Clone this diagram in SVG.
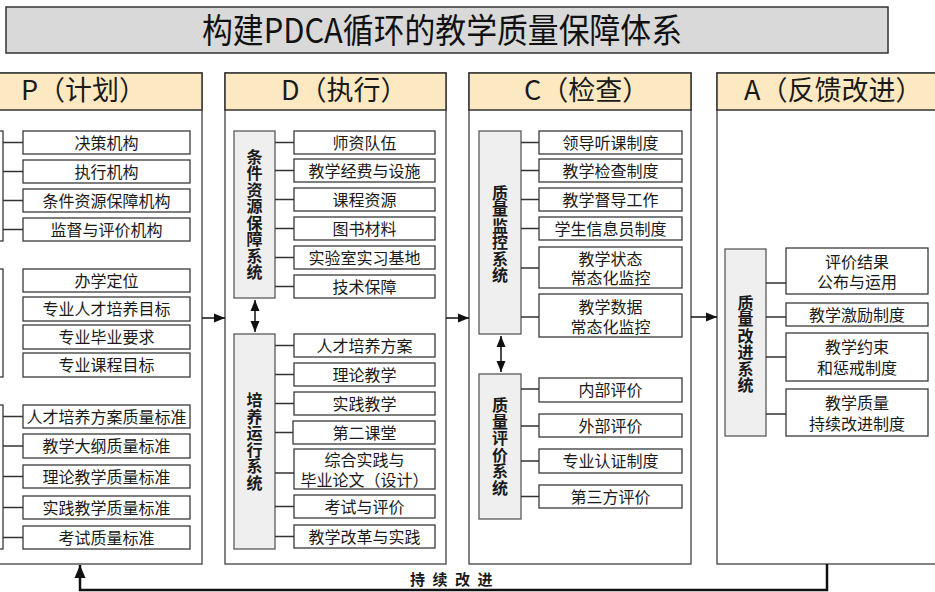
<svg xmlns="http://www.w3.org/2000/svg" width="935" height="592" viewBox="0 0 935 592">
<style>
.bg{fill:#ffffff}
.title{fill:#d9d9d9;stroke:#333333;stroke-width:1.5}
.col{fill:#ffffff;stroke:#5a5a5a;stroke-width:1.5}
.hdr{fill:#fde9c1;stroke:#333333;stroke-width:1.5}
.item{fill:#ffffff;stroke:#3a3a3a;stroke-width:1.3}
.lbl{fill:#efefef;stroke:#5a5a5a;stroke-width:1.3}
.t{font-family:"Noto Sans CJK SC","Noto Sans",sans-serif;font-size:16px;fill:#1a1a1a;text-anchor:middle}
.v{font-family:"Noto Sans CJK SC","Noto Sans",sans-serif;font-size:16px;font-weight:bold;fill:#1a1a1a;text-anchor:middle;writing-mode:vertical-rl;letter-spacing:0.5px}
.h{font-family:"Noto Sans CJK SC","Noto Sans",sans-serif;font-size:27px;fill:#1a1a1a}
.tt{font-family:"Noto Sans CJK SC","Noto Sans",sans-serif;font-size:34px;fill:#111111;text-anchor:middle}
.ft{font-family:"Noto Sans CJK SC","Noto Sans",sans-serif;font-size:15px;font-weight:bold;fill:#1a1a1a;letter-spacing:7.5px}
.c{fill:none;stroke:#333333;stroke-width:1.3}
.a{fill:none;stroke:#111111;stroke-width:1.5}
.fb{fill:none;stroke:#111111;stroke-width:2.5}
</style>
<defs>
<marker id="ah" markerUnits="userSpaceOnUse" markerWidth="12" markerHeight="12" viewBox="0 0 12 12" refX="11" refY="6" orient="auto-start-reverse">
<path d="M0,1.5 L11,6 L0,10.5 Z" fill="#111111"/>
</marker>
<marker id="ahb" markerUnits="userSpaceOnUse" markerWidth="14" markerHeight="14" viewBox="0 0 14 14" refX="13" refY="7" orient="auto">
<path d="M0,1.5 L13,7 L0,12.5 Z" fill="#111111"/>
</marker>
</defs>
<rect class="bg" x="0" y="0" width="935" height="592"/>

<g id="title">
<rect class="title" x="6" y="7" width="882" height="46"/>
<text class="tt" x="442" y="43" textLength="480" lengthAdjust="spacingAndGlyphs">构建PDCA循环的教学质量保障体系</text>
</g>

<!-- Columns -->
<g id="col-P">
<rect class="col" x="-20" y="73" width="222" height="491"/>
<rect class="hdr" x="-20" y="73" width="222" height="37"/>
<text class="h" x="21" y="100">P（计划）</text>
</g>
<g id="col-D">
<rect class="col" x="225" y="73" width="221" height="491"/>
<rect class="hdr" x="225" y="73" width="221" height="37"/>
<text class="h" x="281" y="100">D（执行）</text>
</g>
<g id="col-C">
<rect class="col" x="469" y="73" width="222" height="491"/>
<rect class="hdr" x="469" y="73" width="222" height="37"/>
<text class="h" x="524" y="100">C（检查）</text>
</g>
<g id="col-A">
<rect class="col" x="717" y="73" width="230" height="491"/>
<rect class="hdr" x="717" y="73" width="230" height="37"/>
<text class="h" x="744" y="100">A（反馈改进）</text>
</g>

<!-- P column groups -->
<g id="P-group1"><rect class="item" x="-40" y="131" width="43" height="110"/></g>
<g id="P-group2"><rect class="item" x="-40" y="269" width="43" height="108"/></g>
<g id="P-group3"><rect class="item" x="-40" y="405" width="43" height="144"/></g>

<g id="P-1"><rect class="item" x="23" y="131" width="167" height="23"/><text class="t" x="106.5" y="148.5">决策机构</text></g>
<g id="P-2"><rect class="item" x="23" y="160" width="167" height="23"/><text class="t" x="106.5" y="177.5">执行机构</text></g>
<g id="P-3"><rect class="item" x="23" y="189" width="167" height="23"/><text class="t" x="106.5" y="206.5">条件资源保障机构</text></g>
<g id="P-4"><rect class="item" x="23" y="218" width="167" height="23"/><text class="t" x="106.5" y="235.5">监督与评价机构</text></g>

<g id="P-5"><rect class="item" x="23" y="269" width="167" height="23"/><text class="t" x="106.5" y="286.5">办学定位</text></g>
<g id="P-6"><rect class="item" x="23" y="297" width="167" height="24"/><text class="t" x="106.5" y="315">专业人才培养目标</text></g>
<g id="P-7"><rect class="item" x="23" y="325" width="167" height="24"/><text class="t" x="106.5" y="343">专业毕业要求</text></g>
<g id="P-8"><rect class="item" x="23" y="353" width="167" height="24"/><text class="t" x="106.5" y="371">专业课程目标</text></g>

<g id="P-9"><rect class="item" x="23" y="405" width="167" height="23"/><text class="t" x="106.5" y="422.5">人才培养方案质量标准</text></g>
<g id="P-10"><rect class="item" x="23" y="434" width="167" height="24"/><text class="t" x="106.5" y="452">教学大纲质量标准</text></g>
<g id="P-11"><rect class="item" x="23" y="465" width="167" height="23"/><text class="t" x="106.5" y="482.5">理论教学质量标准</text></g>
<g id="P-12"><rect class="item" x="23" y="496" width="167" height="23"/><text class="t" x="106.5" y="513.5">实践教学质量标准</text></g>
<g id="P-13"><rect class="item" x="23" y="526" width="167" height="23"/><text class="t" x="106.5" y="543.5">考试质量标准</text></g>

<!-- D column -->
<g id="D-label1"><rect class="lbl" x="234" y="131" width="41" height="167"/>
<text class="v" x="254.5" y="214.5">条件资源保障系统</text></g>
<g id="D-1"><rect class="item" x="294" y="131" width="141" height="23"/><text class="t" x="364.5" y="148.5">师资队伍</text></g>
<g id="D-2"><rect class="item" x="294" y="159" width="141" height="23"/><text class="t" x="364.5" y="176.5">教学经费与设施</text></g>
<g id="D-3"><rect class="item" x="294" y="188" width="141" height="23"/><text class="t" x="364.5" y="205.5">课程资源</text></g>
<g id="D-4"><rect class="item" x="294" y="217" width="141" height="23"/><text class="t" x="364.5" y="234.5">图书材料</text></g>
<g id="D-5"><rect class="item" x="294" y="246" width="141" height="23"/><text class="t" x="364.5" y="263.5">实验室实习基地</text></g>
<g id="D-6"><rect class="item" x="294" y="275" width="141" height="23"/><text class="t" x="364.5" y="292.5">技术保障</text></g>

<g id="D-label2"><rect class="lbl" x="234" y="334" width="41" height="215"/>
<text class="v" x="254.5" y="441.5">培养运行系统</text></g>
<g id="D-7"><rect class="item" x="294" y="334" width="141" height="23"/><text class="t" x="364.5" y="351.5">人才培养方案</text></g>
<g id="D-8"><rect class="item" x="294" y="363" width="141" height="23"/><text class="t" x="364.5" y="380.5">理论教学</text></g>
<g id="D-9"><rect class="item" x="294" y="392" width="141" height="23"/><text class="t" x="364.5" y="409.5">实践教学</text></g>
<g id="D-10"><rect class="item" x="293" y="421" width="142" height="23"/><text class="t" x="364.5" y="438.5">第二课堂</text></g>
<g id="D-11"><rect class="item" x="294" y="449" width="141" height="40"/><text class="t" x="364.5" y="466"><tspan x="364.5">综合实践与</tspan><tspan x="364.5" dy="20">毕业论文（设计）</tspan></text></g>
<g id="D-12"><rect class="item" x="294" y="495" width="141" height="23"/><text class="t" x="364.5" y="512.5">考试与评价</text></g>
<g id="D-13"><rect class="item" x="294" y="525" width="141" height="23"/><text class="t" x="364.5" y="542.5">教学改革与实践</text></g>

<!-- C column -->
<g id="C-label1"><rect class="lbl" x="479" y="131" width="42" height="203"/>
<text class="v" x="500" y="234">质量监控系统</text></g>
<g id="C-1"><rect class="item" x="539" y="131" width="143" height="23"/><text class="t" x="610.5" y="148.5">领导听课制度</text></g>
<g id="C-2"><rect class="item" x="539" y="159" width="143" height="23"/><text class="t" x="610.5" y="176.5">教学检查制度</text></g>
<g id="C-3"><rect class="item" x="539" y="188" width="143" height="23"/><text class="t" x="610.5" y="205.5">教学督导工作</text></g>
<g id="C-4"><rect class="item" x="539" y="217" width="143" height="23"/><text class="t" x="610.5" y="234.5">学生信息员制度</text></g>
<g id="C-5"><rect class="item" x="539" y="247" width="143" height="41"/><text class="t" x="610.5" y="265"><tspan x="610.5">教学状态</tspan><tspan x="610.5" dy="19">常态化监控</tspan></text></g>
<g id="C-6"><rect class="item" x="539" y="294" width="143" height="43"/><text class="t" x="610.5" y="313"><tspan x="610.5">教学数据</tspan><tspan x="610.5" dy="20">常态化监控</tspan></text></g>

<g id="C-label2"><rect class="lbl" x="479" y="374" width="42" height="145"/>
<text class="v" x="500" y="446.5">质量评价系统</text></g>
<g id="C-7"><rect class="item" x="539" y="378" width="143" height="24"/><text class="t" x="610.5" y="396">内部评价</text></g>
<g id="C-8"><rect class="item" x="539" y="414" width="143" height="23"/><text class="t" x="610.5" y="431.5">外部评价</text></g>
<g id="C-9"><rect class="item" x="539" y="449" width="143" height="24"/><text class="t" x="610.5" y="467">专业认证制度</text></g>
<g id="C-10"><rect class="item" x="539" y="485" width="143" height="23"/><text class="t" x="610.5" y="502.5">第三方评价</text></g>

<!-- A column -->
<g id="A-label"><rect class="lbl" x="725" y="249" width="41" height="187"/>
<text class="v" x="745.5" y="344">质量改进系统</text></g>
<g id="A-1"><rect class="item" x="786" y="248" width="142" height="46"/><text class="t" x="857" y="268"><tspan x="857">评价结果</tspan><tspan x="857" dy="20">公布与运用</tspan></text></g>
<g id="A-2"><rect class="item" x="786" y="303" width="142" height="23"/><text class="t" x="857" y="320.5">教学激励制度</text></g>
<g id="A-3"><rect class="item" x="786" y="333" width="142" height="48"/><text class="t" x="857" y="353"><tspan x="857">教学约束</tspan><tspan x="857" dy="21">和惩戒制度</tspan></text></g>
<g id="A-4"><rect class="item" x="786" y="389" width="142" height="47"/><text class="t" x="857" y="409"><tspan x="857">教学质量</tspan><tspan x="857" dy="21">持续改进制度</tspan></text></g>

<!-- Connectors -->
<g id="connectors">
<path class="c" d="M3,142.5H23 M3,171.5H23 M3,200.5H23 M3,229.5H23"/>
<path class="c" d="M3,416.5H23 M3,446H23 M3,476.5H23 M3,507.5H23 M3,537.5H23"/>
<path class="c" d="M275,142.5H294 M275,170.5H294 M275,199.5H294 M275,228.5H294 M275,257.5H294 M275,286.5H294"/>
<path class="c" d="M275,345.5H294 M275,374.5H294 M275,403.5H294 M275,432.5H293 M275,473H294 M275,506.5H294 M275,536.5H294"/>
<path class="c" d="M521,142.5H539 M521,170.5H539 M521,199.5H539 M521,228.5H539 M521,268H539 M521,317H539"/>
<path class="c" d="M521,389H539 M521,426H539 M521,461H539 M521,496.5H539"/>
<path class="c" d="M766,283H786 M766,317H786 M766,357H786 M766,414H786"/>
<line class="a" x1="255" y1="300" x2="255" y2="332" marker-start="url(#ah)" marker-end="url(#ah)"/>
<line class="a" x1="501" y1="336" x2="501" y2="372" marker-start="url(#ah)" marker-end="url(#ah)"/>
<line class="a" x1="202" y1="318" x2="225" y2="318" marker-end="url(#ah)"/>
<line class="a" x1="446" y1="318" x2="469" y2="318" marker-end="url(#ah)"/>
<line class="a" x1="691" y1="317" x2="717" y2="317" marker-end="url(#ah)"/>
<polyline class="fb" points="827,564 827,590 80,590 80,565" marker-end="url(#ahb)"/>
<text class="ft" x="410" y="585">持续改进</text>
</g>
</svg>
